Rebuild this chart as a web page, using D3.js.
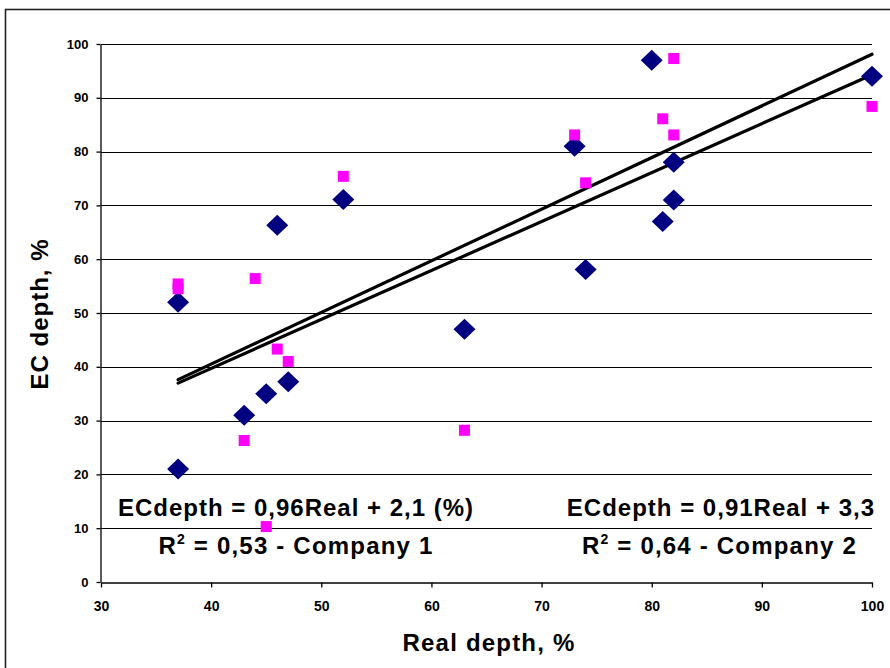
<!DOCTYPE html>
<html>
<head>
<meta charset="utf-8">
<script src="https://cdn.jsdelivr.net/npm/d3@7"></script>
<style>
  html, body { margin: 0; padding: 0; background: #fff; }
  svg { display: block; }
  .tick-label { font-family: "Liberation Sans", Arial, sans-serif; font-weight: bold; fill: #000; }
  .title { font-family: "Liberation Sans", Arial, sans-serif; font-weight: bold; font-size: 24px; fill: #000; }
  .eq { font-family: "Liberation Sans", Arial, sans-serif; font-weight: bold; font-size: 24px; fill: #000; }
</style>
</head>
<body>
<svg id="chart" width="890" height="668"></svg>
<script>
// Company 2 measurements (navy diamonds): real depth vs EC depth, %
const company2Real = [37, 37, 43, 45, 47, 46, 52, 63, 73, 74, 80, 82, 82, 81, 100];
const company2EC   = [52, 21, 31, 35, 37.2, 66.3, 71.1, 47, 81, 58.1, 97, 78, 71, 67, 94];

// Company 1 measurements (magenta squares)
const company1Real = [37, 37, 44, 52, 46, 47, 43, 45, 63, 73, 74, 82, 81, 82, 100];
const company1EC   = [55.4, 54.5, 56.4, 75.4, 43.3, 41, 26.3, 10.3, 28.2, 83.1, 74.2, 97.3, 86.1, 83.1, 88.4];

// Linear fits: EC = slope * Real + intercept
const fit1 = { slope: 0.96, intercept: 2.1 };
const fit2 = { slope: 0.91, intercept: 3.3 };
const fitRange = [37, 100];

const xTicks = [30, 40, 50, 60, 70, 80, 90, 100];
const yTicks = [0, 10, 20, 30, 40, 50, 60, 70, 80, 90, 100];

(function draw() {
  const svg = d3.select("#chart");

  // outer chart frame
  svg.append("rect")
    .attr("x", 5.5).attr("y", 9.5)
    .attr("width", 900).attr("height", 700)
    .attr("fill", "none").attr("stroke", "#222").attr("stroke-width", 1.6);

  const plotLeft = 101, plotRight = 872, plotTop = 44, plotBottom = 582;
  const x = d3.scaleLinear().domain([30, 100]).range([plotLeft, plotRight]);
  const y = d3.scaleLinear().domain([0, 100]).range([plotBottom, plotTop]);

  // horizontal gridlines
  svg.append("g").selectAll("line")
    .data(yTicks.filter(t => t > 0))
    .join("line")
    .attr("x1", plotLeft).attr("x2", plotRight)
    .attr("y1", d => Math.round(y(d)) + 0.5).attr("y2", d => Math.round(y(d)) + 0.5)
    .attr("stroke", "#000").attr("stroke-width", 1);

  // axes
  const xAxis = svg.append("g")
    .attr("transform", `translate(0,${Math.round(plotBottom) + 0.5})`)
    .call(d3.axisBottom(x).tickValues(xTicks).tickSize(5).tickSizeOuter(0).tickPadding(14));
  const yAxis = svg.append("g")
    .attr("transform", `translate(${plotLeft - 0.5},0)`)
    .call(d3.axisLeft(y).tickValues(yTicks).tickSize(4).tickSizeOuter(0).tickPadding(8));

  [xAxis, yAxis].forEach(g => {
    g.attr("font-family", null).attr("font-size", null);
    g.select(".domain").attr("stroke", "#000").attr("stroke-width", 1.3);
    g.selectAll(".tick line").attr("stroke", "#000").attr("stroke-width", 1.3);
    g.selectAll(".tick text").attr("class", "tick-label");
  });
  xAxis.selectAll(".tick text").attr("font-size", 14);
  yAxis.selectAll(".tick text").attr("font-size", 13);

  // trend lines
  const lineGen = d3.line().x(d => x(d[0])).y(d => y(d[1]));
  [fit1, fit2].forEach(f => {
    svg.append("path")
      .datum(fitRange.map(r => [r, f.slope * r + f.intercept]))
      .attr("d", lineGen)
      .attr("fill", "none").attr("stroke", "#000").attr("stroke-width", 3.2)
      .attr("stroke-linecap", "round");
  });

  // diamonds for company 2
  const diamond = "M0,-10.5 L11,0 L0,10.5 L-11,0 Z";
  svg.append("g").selectAll("path")
    .data(d3.zip(company2Real, company2EC))
    .join("path")
    .attr("d", diamond)
    .attr("transform", d => `translate(${x(d[0])},${y(d[1])})`)
    .attr("fill", "#000080");

  // squares for company 1
  svg.append("g").selectAll("rect")
    .data(d3.zip(company1Real, company1EC))
    .join("rect")
    .attr("x", d => x(d[0]) - 5.5).attr("y", d => y(d[1]) - 5.5)
    .attr("width", 11).attr("height", 11)
    .attr("fill", "#ff00ff");

  // axis titles
  svg.append("text").attr("class", "title")
    .attr("x", 489).attr("y", 651).attr("text-anchor", "middle")
    .attr("letter-spacing", 1.2)
    .text("Real depth, %");
  svg.append("text").attr("class", "title")
    .attr("transform", "translate(48,314) rotate(-90)").attr("text-anchor", "middle")
    .attr("font-size", 22).attr("letter-spacing", 1)
    .text("EC depth, %");

  // equation labels
  function eqLabel(xp, yp, anchor, spacing, parts) {
    const t = svg.append("text").attr("class", "eq")
      .attr("x", xp).attr("y", yp).attr("text-anchor", anchor)
      .attr("letter-spacing", spacing);
    parts.forEach(p => {
      const s = t.append("tspan").text(p.text);
      if (p.sup) s.attr("dy", -10).attr("font-size", 14);
      if (p.after) s.attr("dy", 10);
    });
  }
  eqLabel(296, 516, "middle", 1, [{ text: "ECdepth = 0,96Real + 2,1 (%)" }]);
  eqLabel(296, 554, "middle", 1.2, [{ text: "R" }, { text: "2", sup: true }, { text: " = 0,53 - Company 1", after: true }]);
  eqLabel(875, 516, "end", 1, [{ text: "ECdepth = 0,91Real + 3,3" }]);
  eqLabel(857, 554, "end", 1.2, [{ text: "R" }, { text: "2", sup: true }, { text: " = 0,64 - Company 2", after: true }]);
})();
</script>
</body>
</html>
